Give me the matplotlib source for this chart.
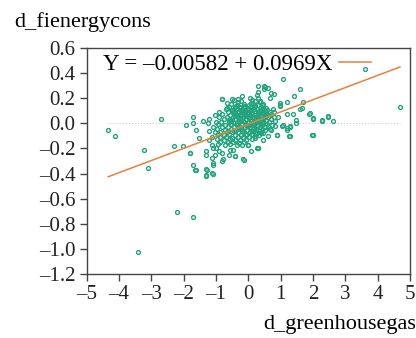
import numpy as np
import matplotlib
matplotlib.use('Agg')
matplotlib.rc('font', family=['Liberation Serif', 'DejaVu Serif'])
matplotlib.rc('axes', unicode_minus=False)
import matplotlib.pyplot as plt
from matplotlib.ticker import FuncFormatter

# regression reported in the legend
intercept = -0.00582
slope = 0.0969

# scattered observations away from the core
outer_x = [-4.33, -4.12, -2.71, -3.21, -3.11, -2.31, -2.01, -1.80, -1.80, -1.70,
           -1.60, -1.31, -1.31, -1.10, -1.10, -1.93, -1.70, -1.60, -1.70, -1.41,
           -1.51, -1.22, -1.02, -0.81, -0.41, -0.12, 0.31, -0.01, 1.08, 0.69,
           0.80, 0.29, 0.49, 0.29, 0.49, 0.99, 1.19, 1.40, 1.60, 1.68,
           1.19, 1.39, 1.60, 1.89, 1.99, 2.29, 2.48, 1.49, 1.49, 1.29,
           1.27, 1.08, 0.90, 1.99, 3.60, 4.69, -2.21, -1.70, -3.41,
           -1.21, -1.13, -1.08, -1.31, -1.31, -1.13, -1.08, -1.03, -0.82, -0.77,
           -0.82, -0.56, -0.46, -0.41, -0.15, 0.00, 0.26, -1.65, -1.29, -1.31,
           -1.11, -0.80, -0.31, -0.67, 0.52, 0.62, 0.67, 0.26, 0.31, 0.36,
           0.41, 0.98, 0.98, 1.65, 1.91, 2.01, 2.27, 2.47, 2.63, 0.83,
           0.83, 1.03, 1.19, 1.29, 0.26, 0.47, 0.52, 0.88, 1.19, 1.29,
           1.98, 0.31]
outer_y = [-0.053, -0.103, 0.037, -0.209, -0.357, -0.183, -0.183, -0.240, -0.235, -0.330,
           -0.370, -0.360, -0.415, -0.400, -0.330, -0.010, 0.048, -0.050, 0.000, 0.020,
           -0.120, 0.037, 0.070, 0.190, -0.260, -0.290, -0.200, -0.170, 0.350, 0.240,
           0.230, 0.300, 0.300, 0.250, 0.275, 0.150, 0.167, 0.220, 0.270, 0.167,
           0.077, 0.077, 0.114, 0.077, 0.037, 0.018, 0.048, 0.030, 0.003, -0.030,
           -0.100, -0.010, -0.090, -0.090, 0.430, 0.127, -0.706, -0.745, -1.023,
           -0.130, -0.169, -0.195, -0.222, -0.249, -0.275, -0.314, -0.249, -0.235, -0.288,
           -0.300, -0.209, -0.209, -0.262, -0.288, -0.169, -0.195, -0.370, -0.370, -0.420,
           -0.394, 0.195, 0.195, 0.120, 0.293, 0.280, 0.200, 0.227, 0.200, 0.174,
           0.148, 0.160, 0.135, 0.122, 0.082, 0.042, 0.029, 0.055, 0.015, 0.015,
           -0.024, -0.024, -0.037, -0.024, -0.077, -0.077, -0.050, -0.090, -0.050, -0.103,
           -0.090, -0.200]

# dense core around the origin
core_x = [-0.45, -0.21, 0.11, 0.36,
          -0.54, -0.36, -0.14, 0.01, 0.16, 0.29, 0.46,
          -0.61, -0.41, -0.27, -0.11, 0.06, 0.19, 0.38, 0.56,
          -0.70, -0.49, -0.34, -0.23, -0.04, 0.08, 0.26, 0.41, 0.59, 0.76,
          -0.63, -0.44, -0.31, -0.16, 0.00, 0.13, 0.29, 0.46, 0.66,
          -0.81, -0.55, -0.39, -0.26, -0.09, 0.04, 0.21, 0.34, 0.51, 0.71,
          -0.90, -0.66, -0.47, -0.33, -0.17, -0.02, 0.14, 0.29, 0.43, 0.61, 0.79,
          -0.76, -0.57, -0.41, -0.21, -0.07, 0.10, 0.23, 0.37, 0.54, 0.69,
          -1.01, -0.84, -0.61, -0.46, -0.29, -0.13, 0.03, 0.17, 0.33, 0.47, 0.63,
          -0.94, -0.71, -0.52, -0.36, -0.19, -0.06, 0.12, 0.26, 0.41, 0.57, 0.74,
          -1.09, -0.81, -0.63, -0.44, -0.28, -0.11, 0.06, 0.19, 0.36, 0.52,
          -0.96, -0.73, -0.54, -0.37, -0.21, -0.03, 0.14, 0.31, 0.44, 0.66,
          -1.04, -0.86, -0.66, -0.49, -0.31, -0.12, 0.04, 0.22, 0.39,
          -0.94, -0.76, -0.59, -0.41, -0.23, -0.06, 0.13, 0.33,
          -1.11, -0.87, -0.69, -0.51, -0.33, -0.16, 0.02, 0.21,
          -0.96, -0.74, -0.57, -0.41, -0.26, -0.08, 0.11,
          -0.86, -0.64, -0.47, -0.29, -0.12,
          -0.94, -0.71, -0.56, -0.34, -0.19,
          -0.65, -0.50, -0.20, 0.05, 0.21, -0.90, -1.20, -1.25, 0.80, 0.91,
          0.71, 0.60, 0.45, -1.00, -0.90, -0.60, 0.10]
core_y = [0.182, 0.178, 0.185, 0.176,
          0.152, 0.148, 0.155, 0.146, 0.151, 0.149, 0.153,
          0.131, 0.128, 0.134, 0.127, 0.132, 0.129, 0.133, 0.126,
          0.112, 0.108, 0.114, 0.107, 0.111, 0.109, 0.113, 0.106, 0.110, 0.112,
          0.092, 0.088, 0.093, 0.087, 0.091, 0.089, 0.094, 0.086, 0.090,
          0.071, 0.068, 0.073, 0.067, 0.072, 0.069, 0.070, 0.074, 0.066, 0.071,
          0.052, 0.048, 0.053, 0.047, 0.051, 0.049, 0.054, 0.046, 0.050, 0.052, 0.048,
          0.031, 0.028, 0.033, 0.027, 0.032, 0.029, 0.034, 0.026, 0.030, 0.031,
          0.012, 0.008, 0.013, 0.007, 0.011, 0.009, 0.014, 0.006, 0.010, 0.012, 0.008,
          -0.008, -0.012, -0.007, -0.013, -0.009, -0.011, -0.006, -0.014, -0.010, -0.008, -0.012,
          -0.028, -0.032, -0.027, -0.033, -0.029, -0.031, -0.026, -0.034, -0.030, -0.028,
          -0.048, -0.052, -0.047, -0.053, -0.049, -0.051, -0.046, -0.054, -0.050, -0.048,
          -0.068, -0.072, -0.067, -0.073, -0.069, -0.071, -0.066, -0.074, -0.070,
          -0.088, -0.092, -0.087, -0.093, -0.089, -0.091, -0.086, -0.094,
          -0.108, -0.112, -0.107, -0.113, -0.109, -0.111, -0.106, -0.114,
          -0.128, -0.132, -0.127, -0.133, -0.129, -0.131, -0.126,
          -0.148, -0.152, -0.147, -0.153, -0.149,
          -0.168, -0.172, -0.167, -0.173, -0.169,
          0.160, 0.190, 0.220, 0.200, 0.180, 0.090, -0.060, 0.000, 0.090, 0.050,
          -0.050, -0.100, -0.130, -0.200, -0.220, -0.250, -0.220]

# extra points filling the densest part of the cloud
dense_x = [-0.38, -0.12, 0.22, 0.47, -0.27, 0.03, 0.33, 0.52, -0.48, -0.18,
           0.09, 0.41, -0.33, -0.02, 0.27, 0.58, -0.42, -0.08, 0.18, 0.49,
           -0.24, 0.07, 0.37, -0.52, -0.15, 0.14, 0.44, -0.36, 0.00, 0.31,
           0.62, -0.28, 0.05, 0.24, -0.45, -0.19, 0.12, 0.39, -0.06, 0.20,
           -0.31, 0.09, 0.35, -0.58, -0.22, 0.17, 0.50, -0.11, 0.28, 0.43]
dense_y = [0.140, 0.138, 0.142, 0.120, 0.121, 0.118, 0.101, 0.098, 0.100, 0.097,
           0.079, 0.081, 0.080, 0.078, 0.061, 0.063, 0.060, 0.058, 0.041, 0.043,
           0.040, 0.021, 0.019, 0.022, 0.020, 0.001, 0.003, -0.001, -0.019, -0.021,
           -0.018, -0.040, -0.038, -0.042, -0.061, -0.059, -0.060, -0.079, -0.081, -0.100,
           0.166, 0.163, 0.167, 0.025, 0.058, 0.112, 0.075, 0.102, 0.057, 0.032]

x_ticks = [-5, -4, -3, -2, -1, 0, 1, 2, 3, 4, 5]
y_ticks = [-1.2, -1.0, -0.8, -0.6, -0.4, -0.2, 0.0, 0.2, 0.4, 0.6]

green = '#23a37c'
orange = '#e8803a'
axcol = '#444444'


def dash(s):
    return s.replace('-', '\u2013')


def main():
    x = np.array(outer_x + core_x + dense_x)
    y = np.array(outer_y + core_y + dense_y)

    fig = plt.figure(figsize=(4.16, 3.38), dpi=100)
    ax = fig.add_axes([86.5 / 416, 1 - 274 / 338, 323.5 / 416, 226 / 338])

    ax.hlines(0, x.min(), x.max(), colors='#cccccc', linestyles=':', lw=0.8, zorder=1)
    ax.plot(x, y, 'o', ls='none', ms=2.8, mfc='none', mec=green, mew=1.0, zorder=2)

    xl = np.array([x.min(), x.max()])
    ax.plot(xl, intercept + slope * xl, color=orange, lw=1.1, zorder=3,
            label=dash('Y = %.5f + %.4fX' % (intercept, slope)))

    ax.set_xlim(-5, 5)
    ax.set_ylim(-1.2, 0.6)
    ax.set_xticks(x_ticks)
    ax.set_yticks(y_ticks)
    ax.xaxis.set_major_formatter(FuncFormatter(lambda v, p: dash('%d' % v)))
    ax.yaxis.set_major_formatter(FuncFormatter(lambda v, p: dash('%.1f' % v)))
    ax.tick_params(direction='out', length=5, width=1.0, color=axcol,
                   labelsize=15, pad=3, labelcolor='#222222')
    for side in ax.spines:
        ax.spines[side].set_color(axcol)
        ax.spines[side].set_linewidth(1.0)

    ax.set_ylabel('d_fienergycons', fontsize=16, rotation=0, ha='left', va='baseline')
    ax.yaxis.set_label_coords(-0.224, 1.093)
    ax.set_xlabel('d_greenhousegas', fontsize=16, ha='right', va='baseline')
    ax.xaxis.set_label_coords(1.019, -0.243)

    ax.legend(loc='center left', bbox_to_anchor=(0.05, 0.929), frameon=False,
              markerfirst=False, fontsize=16.5, handlelength=1.4, handletextpad=0.3,
              borderpad=0, borderaxespad=0)

    fig.savefig('out.png', dpi=100)


if __name__ == '__main__':
    main()
